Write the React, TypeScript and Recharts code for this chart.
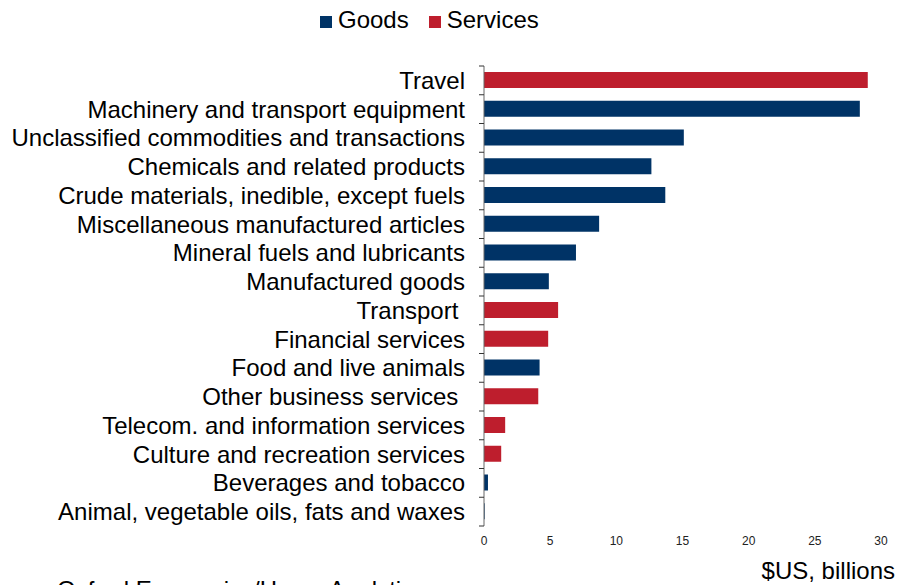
import React from "react";
import { BarChart, Bar, XAxis, YAxis, Legend } from "recharts";

const categories = [
  "Travel",
  "Machinery and transport equipment",
  "Unclassified commodities and transactions",
  "Chemicals and related products",
  "Crude materials, inedible, except fuels",
  "Miscellaneous manufactured articles",
  "Mineral fuels and lubricants",
  "Manufactured goods",
  "Transport ",
  "Financial services",
  "Food and live animals",
  "Other business services ",
  "Telecom. and information services",
  "Culture and recreation services",
  "Beverages and tobacco",
  "Animal, vegetable oils, fats and waxes",
];

const goods = [
  null, 28.4, 15.1, 12.65, 13.7, 8.7, 6.95, 4.9,
  null, null, 4.2, null, null, null, 0.3, 0.05,
];

const services = [
  29.0, null, null, null, null, null, null, null,
  5.6, 4.85, null, 4.1, 1.6, 1.3, null, null,
];

const xTicks = [0, 5, 10, 15, 20, 25, 30];

const GOODS_COLOR = "#003366";
const SERVICES_COLOR = "#BE1E2D";

const data = categories.map((name, i) => ({
  name,
  Goods: goods[i],
  Services: services[i],
}));

const CategoryTick = (props: any) => {
  const { x, y, payload, index } = props;
  const half = payload && payload.offset ? payload.offset : 14.4;
  const isLast = index === categories.length - 1;
  return (
    <g>
      <line x1={x - 5} x2={x} y1={y - half} y2={y - half} stroke="#333" />
      {isLast && (
        <line x1={x - 5} x2={x} y1={y + half} y2={y + half} stroke="#333" />
      )}
      <text
        x={x - 19}
        y={y}
        textAnchor="end"
        dominantBaseline="central"
        fontSize={24}
        fill="#000"
        style={{ whiteSpace: "pre" }}
      >
        {payload.value}
      </text>
    </g>
  );
};

const renderLegend = () => (
  <div style={{ position: "relative", width: 901, height: 61 }}>
    <div
      style={{
        position: "absolute",
        left: 320,
        top: 3,
        display: "flex",
        alignItems: "flex-start",
        fontSize: 24,
        lineHeight: "24px",
        color: "#000",
      }}
    >
      <span style={{ width: 12, height: 12, marginTop: 8, background: GOODS_COLOR }} />
      <span style={{ marginLeft: 6 }}>Goods</span>
      <span style={{ width: 12, height: 12, marginTop: 8, marginLeft: 20, background: SERVICES_COLOR }} />
      <span style={{ marginLeft: 6 }}>Services</span>
    </div>
  </div>
);

export default function App() {
  return (
    <div
      style={{
        position: "absolute",
        left: 0,
        top: 0,
        width: 901,
        height: 585,
        overflow: "hidden",
        background: "#fff",
        fontFamily: "'Liberation Sans', Arial, sans-serif",
      }}
    >
      <BarChart
        width={901}
        height={585}
        data={data}
        layout="vertical"
        barSize={16}
        margin={{ top: 5, right: 20, bottom: 29, left: 0 }}
      >
        <XAxis
          type="number"
          domain={[0, 30]}
          ticks={xTicks}
          axisLine={false}
          tickLine={false}
          tickMargin={4}
          height={30}
          tick={{ fontSize: 12, fill: "#222" }}
        />
        <YAxis
          type="category"
          dataKey="name"
          width={484}
          axisLine={{ stroke: "#666" }}
          tickLine={false}
          tickSize={0}
          tickMargin={0}
          interval={0}
          tick={<CategoryTick />}
        />
        <Legend
          verticalAlign="top"
          content={renderLegend}
          wrapperStyle={{ top: 5, left: 0, width: 901, height: 61 }}
        />
        <Bar dataKey="Goods" stackId="a" fill={GOODS_COLOR} isAnimationActive={false} />
        <Bar dataKey="Services" stackId="a" fill={SERVICES_COLOR} isAnimationActive={false} />
      </BarChart>
      <div
        style={{
          position: "absolute",
          right: 6,
          top: 559,
          fontSize: 24,
          lineHeight: "24px",
          color: "#000",
        }}
      >
        $US, billions
      </div>
      <div
        style={{
          position: "absolute",
          left: 57,
          top: 578,
          fontSize: 24,
          lineHeight: "24px",
          color: "#000",
          whiteSpace: "nowrap",
        }}
      >
        Oxford Economics/Haver Analytics
      </div>
    </div>
  );
}
